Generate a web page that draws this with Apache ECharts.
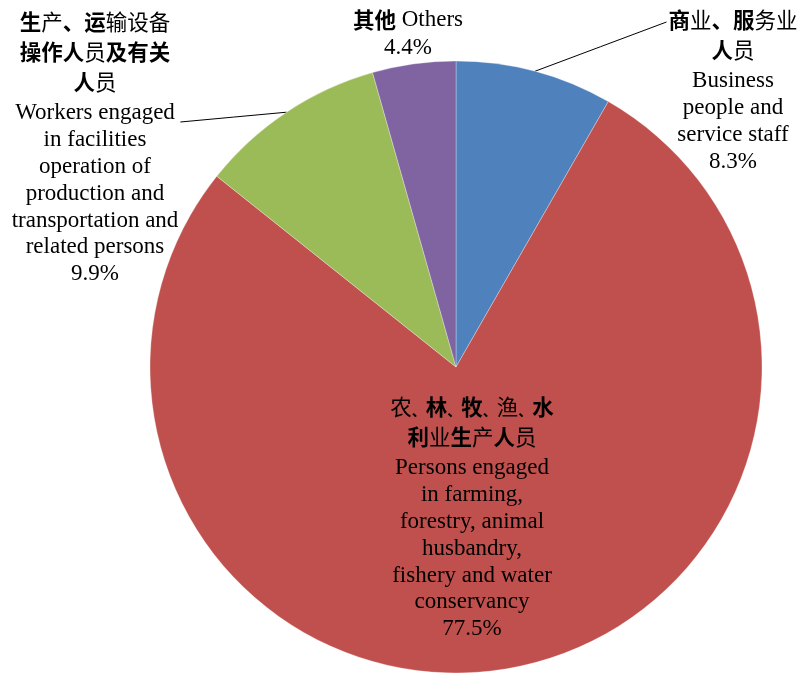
<!DOCTYPE html>
<html><head><meta charset="utf-8">
<script src="https://cdn.jsdelivr.net/npm/echarts@6/dist/echarts.min.js"></script>
<style>html,body{margin:0;padding:0;background:#fff}#c{width:800px;height:673px}</style>
</head><body><div id="c"></div>
<script>
// ---- data ----
var categories = [
  '商业、服务业\n人员\nBusiness\npeople and\nservice staff',
  '农、林、牧、渔、水\n利业生产人员\nPersons engaged\nin farming,\nforestry, animal\nhusbandry,\nfishery and water\nconservancy',
  '生产、运输设备\n操作人员及有关\n人员\nWorkers engaged\nin facilities\noperation of\nproduction and\ntransportation and\nrelated persons',
  '其他 Others'
];
var shares = [8.3, 77.5, 9.9, 4.4];
var colors = ['#4F81BD', '#C0504D', '#9BBB59', '#8064A2'];

// ---- styling / layout ----
var lightChars = '业产员务输设备农渔';
var center = [456, 367], radius = 306;
var labelPos = [
  { x: 733, y: 5, line: 'left', ly: 17 },
  { x: 472, y: 392 },
  { x: 95, y: 7, line: 'right', ly: 115 },
  { x: 408, y: 5 }
];

function richText(name, value) {
  var lines = name.split('\n');
  var out = [];
  var hadCn = false, addedGap = false;
  lines.forEach(function (ln) {
    var s = '', run = '', isCn = false;
    var narrowComma = (ln.split('、').length - 1) > 1;
    for (var i = 0; i < ln.length; i++) {
      var ch = ln[i];
      if (/[\u3000-\u9fff\uff00-\uffef]/.test(ch)) {
        isCn = true;
        if (run) { s += '{e|' + run + '}'; run = ''; }
        var st = (ch === '、' && narrowComma) ? 'p' : (lightChars.indexOf(ch) >= 0 ? 'l' : 'b');
        s += '{' + st + '|' + ch + '}';
      } else run += ch;
    }
    if (run) s += '{e|' + run + '}';
    if (!isCn && hadCn && !addedGap) { out.push('{g| }'); addedGap = true; }
    if (isCn) hadCn = true;
    out.push(s);
  });
  out.push('{e|' + value.toFixed(1) + '%}');
  return out.join('\n');
}

var data = categories.map(function (c, i) {
  var d = { name: c, value: shares[i], itemStyle: { color: colors[i] } };
  if (i === 1) { d.label = { position: 'inside' }; d.labelLine = { show: false }; }
  if (i === 3) { d.labelLine = { show: false }; }
  return d;
});

var total = shares.reduce(function (a, b) { return a + b; }, 0);
function edgePoint(idx) {
  var before = 0;
  for (var i = 0; i < idx; i++) before += shares[i];
  var ang = (before + shares[idx] / 2) / total * Math.PI * 2;
  return [center[0] + radius * Math.sin(ang), center[1] - radius * Math.cos(ang)];
}

var chart = echarts.init(document.getElementById('c'), null, { renderer: 'canvas' });
chart.setOption({
  backgroundColor: '#fff',
  animation: false,
  series: [{
    type: 'pie',
    center: center,
    radius: radius,
    startAngle: 90,
    clockwise: true,
    avoidLabelOverlap: false,
    itemStyle: { borderColor: 'rgba(255,255,255,0.6)', borderWidth: 0.5 },
    data: data,
    label: {
      show: true,
      position: 'outside',
      formatter: function (p) { return richText(p.name, p.value); },
      rich: {
        b: { fontFamily: 'Noto Sans CJK SC', fontWeight: 'bold', fontSize: 21.5, lineHeight: 30, color: '#000' },
        l: { fontFamily: 'Noto Sans CJK SC', fontWeight: 'normal', fontSize: 21.5, lineHeight: 30, color: '#000' },
        p: { fontFamily: 'Noto Sans CJK SC', fontWeight: 'bold', fontSize: 14, padding: [7, 0, 0, 0], color: '#000' },
        g: { fontSize: 1, lineHeight: 3 },
        e: { fontFamily: 'Liberation Serif', fontSize: 23, lineHeight: 26.8, color: '#000' }
      }
    },
    labelLine: { show: true, length: 5, length2: 5, lineStyle: { color: '#000', width: 1 } },
    labelLayout: function (p) {
      var pos = labelPos[p.dataIndex];
      var out = { x: pos.x, y: pos.y, align: 'center', verticalAlign: 'top', hideOverlap: false };
      if (pos.line) {
        var w = p.labelRect.width;
        var s = edgePoint(p.dataIndex);
        var ex = pos.line === 'right' ? pos.x + w / 2 + 2 : pos.x - w / 2 - 2;
        var e = [ex, pos.y + pos.ly];
        out.labelLinePoints = [s, [(s[0] + e[0]) / 2, (s[1] + e[1]) / 2], e];
      }
      return out;
    }
  }]
});
</script>
</body></html>
